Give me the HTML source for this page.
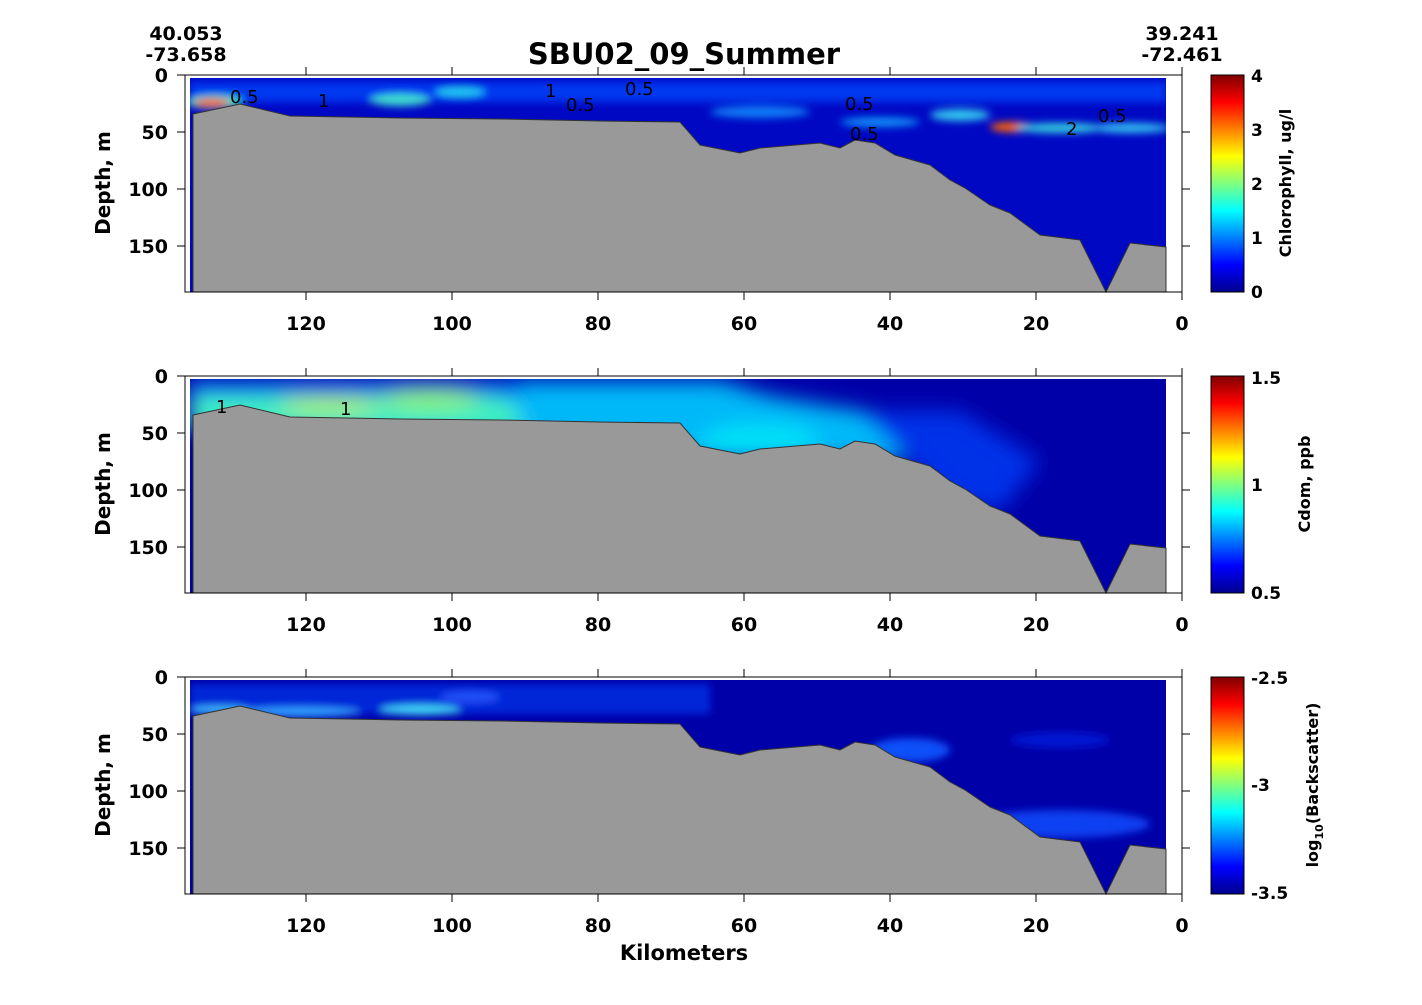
<!DOCTYPE html>
<html><head><meta charset="utf-8"><style>
body{margin:0;background:#fff;}
svg{display:block;font-family:"DejaVu Sans","Liberation Sans",sans-serif;font-weight:bold;}
</style></head><body>
<svg width="1422" height="1005" viewBox="0 0 1422 1005" xmlns="http://www.w3.org/2000/svg">
<defs>
<linearGradient id="jet" x1="0" y1="1" x2="0" y2="0">
<stop offset="0" stop-color="#00008f"/><stop offset="0.125" stop-color="#0000ff"/>
<stop offset="0.375" stop-color="#00ffff"/><stop offset="0.625" stop-color="#ffff00"/>
<stop offset="0.875" stop-color="#ff0000"/><stop offset="1" stop-color="#800000"/>
</linearGradient>
<filter id="bl" x="-50%" y="-50%" width="200%" height="200%"><feGaussianBlur stdDeviation="4"/></filter>
<filter id="bl2" x="-50%" y="-50%" width="200%" height="200%"><feGaussianBlur stdDeviation="10"/></filter>
<clipPath id="dc"><rect x="190" y="78" width="976" height="214"/></clipPath>
<g id="sea"><polygon fill="#999999" stroke="#333" stroke-width="1" points="193,114 240,104 290,116 400,118 500,119 600,121 680,122 700,145 740,153 760,148 820,143 840,148 855,140 875,143 895,155 930,165 950,180 965,188 990,205 1010,213 1040,235 1080,240 1106,292 1130,243 1166,247 1166,292 193,292"/></g>
<g id="axes">
<rect x="185" y="75" width="997" height="217" fill="none" stroke="#000" stroke-width="1"/>
<g stroke="#000" stroke-width="1">
<line x1="306" y1="75" x2="306" y2="67"/><line x1="452" y1="75" x2="452" y2="67"/><line x1="598" y1="75" x2="598" y2="67"/><line x1="744" y1="75" x2="744" y2="67"/><line x1="890" y1="75" x2="890" y2="67"/><line x1="1036" y1="75" x2="1036" y2="67"/><line x1="1182" y1="75" x2="1182" y2="67"/>
<line x1="306" y1="292" x2="306" y2="300"/><line x1="452" y1="292" x2="452" y2="300"/><line x1="598" y1="292" x2="598" y2="300"/><line x1="744" y1="292" x2="744" y2="300"/><line x1="890" y1="292" x2="890" y2="300"/><line x1="1036" y1="292" x2="1036" y2="300"/><line x1="1182" y1="292" x2="1182" y2="300"/>
<line x1="185" y1="132" x2="177" y2="132"/><line x1="185" y1="189" x2="177" y2="189"/><line x1="185" y1="246" x2="177" y2="246"/><line x1="185" y1="75" x2="177" y2="75"/>
<line x1="1182" y1="132" x2="1190" y2="132"/><line x1="1182" y1="189" x2="1190" y2="189"/><line x1="1182" y1="246" x2="1190" y2="246"/>
</g>
<g font-size="19" text-anchor="end"><text x="168" y="82">0</text><text x="168" y="139">50</text><text x="168" y="196">100</text><text x="168" y="253">150</text></g>
<g font-size="19" text-anchor="middle"><text x="306" y="330">120</text><text x="452" y="330">100</text><text x="598" y="330">80</text><text x="744" y="330">60</text><text x="890" y="330">40</text><text x="1036" y="330">20</text><text x="1182" y="330">0</text></g>
<text transform="translate(110,183) rotate(-90)" font-size="20" text-anchor="middle">Depth, m</text>
<rect x="1211" y="75" width="33" height="217" fill="url(#jet)" stroke="#000"/>
</g>
</defs>

<!-- Panel 1 -->
<g clip-path="url(#dc)">
<rect x="190" y="78" width="976" height="214" fill="#0008c4"/>
<g filter="url(#bl)">
<rect x="190" y="82" width="976" height="20" fill="#0038f0"/>
<ellipse cx="215" cy="102" rx="28" ry="7" fill="#30e0c0"/>
<ellipse cx="212" cy="103" rx="18" ry="4" fill="#ff4000"/>
<ellipse cx="400" cy="100" rx="30" ry="6" fill="#40e0d0"/>
<ellipse cx="460" cy="92" rx="25" ry="5" fill="#20c8f0"/>
<ellipse cx="960" cy="115" rx="30" ry="6" fill="#30c8f0"/>
<ellipse cx="1012" cy="127" rx="22" ry="5" fill="#ff6000"/>
<ellipse cx="1060" cy="128" rx="45" ry="5" fill="#30d0e0"/>
<ellipse cx="1130" cy="128" rx="40" ry="5" fill="#30c0f0"/>
<ellipse cx="880" cy="122" rx="40" ry="5" fill="#1090f8"/>
<ellipse cx="760" cy="112" rx="50" ry="6" fill="#1080f8"/>
</g>
</g>
<use href="#sea"/>
<g font-weight="normal" font-size="18" fill="#000">
<text x="230" y="103">0.5</text><text x="318" y="107">1</text><text x="566" y="111">0.5</text><text x="625" y="95">0.5</text><text x="545" y="97">1</text><text x="845" y="110">0.5</text><text x="850" y="140">0.5</text><text x="1098" y="122">0.5</text><text x="1066" y="135">2</text>
</g>
<use href="#axes"/>
<g font-size="17"><text x="1251" y="82">4</text><text x="1251" y="136">3</text><text x="1251" y="190">2</text><text x="1251" y="244">1</text><text x="1251" y="298">0</text></g>
<text transform="translate(1291,183) rotate(-90)" font-size="16" text-anchor="middle">Chlorophyll, ug/l</text>

<!-- Panel 2 -->
<g transform="translate(0,301)">
<g clip-path="url(#dc)">
<rect x="190" y="78" width="976" height="214" fill="#0000a8"/>
<g filter="url(#bl2)">
<polygon points="190,80 720,80 770,95 830,105 900,115 900,160 700,160 190,130" fill="#00b8f8"/>
<polygon points="190,80 520,80 520,95 190,92" fill="#0070f0"/>
<polygon points="190,95 500,95 520,110 520,130 190,125" fill="#40f0c0"/>
<ellipse cx="330" cy="104" rx="50" ry="8" fill="#b0f050"/>
<ellipse cx="430" cy="98" rx="50" ry="10" fill="#90f070"/>
<ellipse cx="760" cy="140" rx="60" ry="18" fill="#00e0f8"/>
<polygon points="860,110 960,110 1040,160 1000,210 950,200 900,150" fill="#0030e8"/>
</g>
</g>
<use href="#sea"/>
<g font-weight="normal" font-size="18"><text x="216" y="112">1</text><text x="340" y="114">1</text></g>
<use href="#axes"/>
</g>
<g font-size="17"><text x="1251" y="384">1.5</text><text x="1251" y="491">1</text><text x="1251" y="599">0.5</text></g>
<text transform="translate(1310,484) rotate(-90)" font-size="16" text-anchor="middle">Cdom, ppb</text>

<!-- Panel 3 -->
<g transform="translate(0,602)">
<g clip-path="url(#dc)">
<rect x="190" y="78" width="976" height="214" fill="#0000a8"/>
<g filter="url(#bl)">
<rect x="190" y="82" width="520" height="30" fill="#0028d8"/>
<ellipse cx="300" cy="110" rx="60" ry="5" fill="#30a0ff"/>
<ellipse cx="420" cy="108" rx="40" ry="5" fill="#40d8f8"/>
<ellipse cx="220" cy="108" rx="30" ry="4" fill="#40c0ff"/>
<ellipse cx="470" cy="95" rx="30" ry="6" fill="#2050f8"/>
<ellipse cx="910" cy="148" rx="40" ry="12" fill="#1050f8"/>
<ellipse cx="1060" cy="222" rx="90" ry="14" fill="#0840f0"/>
<ellipse cx="1060" cy="138" rx="50" ry="8" fill="#0018d0"/>
</g>
</g>
<use href="#sea"/>
<use href="#axes"/>
</g>
<g font-size="17"><text x="1251" y="684">-2.5</text><text x="1251" y="791">-3</text><text x="1251" y="899">-3.5</text></g>
<text transform="translate(1318,785) rotate(-90)" font-size="16" text-anchor="middle">log<tspan font-size="11" dy="5">10</tspan><tspan dy="-5">(Backscatter)</tspan></text>

<text x="684" y="960" font-size="21" text-anchor="middle">Kilometers</text>
<text x="684" y="64" font-size="29" text-anchor="middle">SBU02_09_Summer</text>
<g font-size="19" text-anchor="middle"><text x="186" y="40">40.053</text><text x="186" y="61">-73.658</text><text x="1182" y="40">39.241</text><text x="1182" y="61">-72.461</text></g>
</svg>
</body></html>
